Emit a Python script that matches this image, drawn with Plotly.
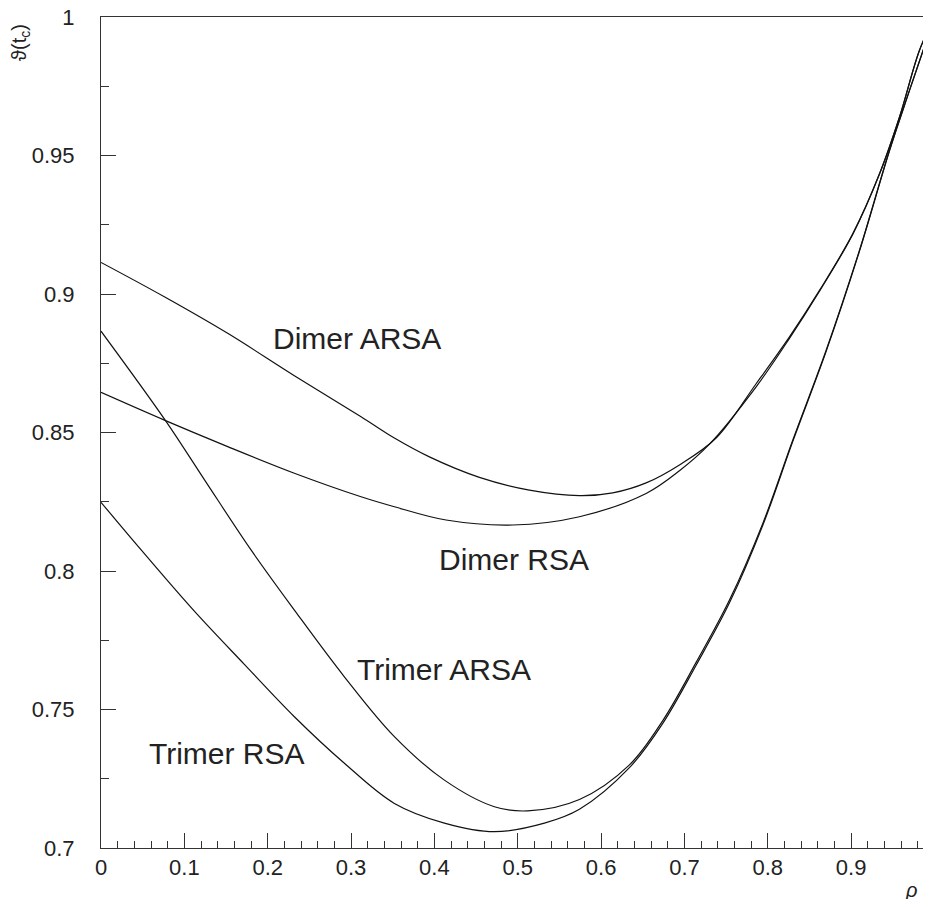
import plotly.graph_objects as go

# ---- data ----
dimer_arsa_x = [0, 0.076, 0.152, 0.232, 0.312, 0.352, 0.394, 0.454, 0.514, 0.574, 0.614, 0.654, 0.694, 0.738, 0.786, 0.826, 0.862, 0.902, 0.934, 0.958, 0.982, 1.0]
dimer_arsa_y = [0.9114, 0.8990, 0.8858, 0.8705, 0.8557, 0.8480, 0.8412, 0.8338, 0.8292, 0.8272, 0.8282, 0.8318, 0.8383, 0.8480, 0.8676, 0.8845, 0.9013, 0.9218, 0.9434, 0.9639, 0.9880, 1.0]

dimer_rsa_x = [0, 0.0774, 0.152, 0.232, 0.312, 0.352, 0.414, 0.494, 0.574, 0.654, 0.694, 0.730, 0.786, 0.826, 0.862, 0.902, 0.934, 0.958, 0.982, 1.0]
dimer_rsa_y = [0.8645, 0.8543, 0.8449, 0.8353, 0.8268, 0.8232, 0.8184, 0.8166, 0.8196, 0.8280, 0.8362, 0.8458, 0.8665, 0.8840, 0.9010, 0.9216, 0.9433, 0.9638, 0.9880, 1.0]

trimer_arsa_x = [0, 0.0774, 0.124, 0.18, 0.232, 0.292, 0.352, 0.412, 0.472, 0.512, 0.574, 0.634, 0.674, 0.714, 0.754, 0.794, 0.830, 0.870, 0.910, 0.946, 0.970, 1.0]
trimer_arsa_y = [0.8866, 0.8543, 0.8330, 0.8076, 0.7859, 0.7618, 0.7402, 0.7245, 0.7149, 0.7134, 0.7175, 0.7300, 0.7460, 0.7670, 0.7895, 0.8172, 0.8473, 0.8797, 0.9158, 0.9519, 0.9736, 1.0]

trimer_rsa_x = [0, 0.0482, 0.112, 0.172, 0.232, 0.292, 0.352, 0.412, 0.472, 0.532, 0.574, 0.634, 0.674, 0.714, 0.754, 0.794, 0.830, 0.870, 0.910, 0.946, 0.970, 1.0]
trimer_rsa_y = [0.8248, 0.8076, 0.7855, 0.7663, 0.7474, 0.7306, 0.7161, 0.7090, 0.7059, 0.7090, 0.7140, 0.7290, 0.7450, 0.7660, 0.7885, 0.8165, 0.8468, 0.8793, 0.9155, 0.9517, 0.9734, 1.0]

series = [
    ("Dimer ARSA", dimer_arsa_x, dimer_arsa_y),
    ("Dimer RSA", dimer_rsa_x, dimer_rsa_y),
    ("Trimer ARSA", trimer_arsa_x, trimer_arsa_y),
    ("Trimer RSA", trimer_rsa_x, trimer_rsa_y),
]

labels = ["Dimer ARSA", "Dimer RSA", "Trimer ARSA", "Trimer RSA"]
label_x = [0.3077, 0.4955, 0.4121, 0.1512]
label_y = [0.8841, 0.8040, 0.7643, 0.7341]

x_ticks = [0, 0.1, 0.2, 0.3, 0.4, 0.5, 0.6, 0.7, 0.8, 0.9]
x_tick_text = ["0", "0.1", "0.2", "0.3", "0.4", "0.5", "0.6", "0.7", "0.8", "0.9"]
y_ticks = [0.7, 0.75, 0.8, 0.85, 0.9, 0.95, 1.0]
y_tick_text = ["0.7", "0.75", "0.8", "0.85", "0.9", "0.95", "1"]

FONT = "Liberation Sans, Arial, sans-serif"

fig = go.Figure()
for name, xs, ys in series:
    fig.add_trace(go.Scatter(
        x=xs, y=ys, mode="lines", name=name,
        line=dict(color="#111111", width=1.2, shape="spline", smoothing=1.0),
        showlegend=False, hoverinfo="skip",
    ))

for t, ax, ay in zip(labels, label_x, label_y):
    fig.add_annotation(x=ax, y=ay, xref="x", yref="y", text=t, showarrow=False,
                       font=dict(family=FONT, size=30, color="#222222"),
                       xanchor="center", yanchor="middle")

# axis titles
fig.add_annotation(x=-0.0964, y=0.970, xref="paper", yref="paper",
                   text="ϑ(t<sub>c</sub>)", showarrow=False, textangle=-90,
                   font=dict(family=FONT, size=20, color="#222222"),
                   xanchor="center", yanchor="middle")
fig.add_annotation(x=0.976, y=-0.050, xref="paper", yref="paper",
                   text="<i>ρ</i>", showarrow=False,
                   font=dict(family=FONT, size=20, color="#222222"),
                   xanchor="center", yanchor="middle")

fig.update_xaxes(
    range=[0, 0.9958], showgrid=False, zeroline=False, automargin=False,
    showline=True, linecolor="#333333", linewidth=1, mirror=True,
    ticks="inside", ticklen=15, tickwidth=1, tickcolor="#333333",
    tickmode="array", tickvals=x_ticks, ticktext=x_tick_text, tickangle=0,
    tickfont=dict(family=FONT, size=22, color="#222222"),
    ticklabeloverflow="allow",
    minor=dict(ticks="inside", ticklen=7, tickwidth=1, tickcolor="#333333", dtick=0.02, tick0=0, showgrid=False),
)
fig.update_yaxes(
    range=[0.7, 1.0], showgrid=False, zeroline=False, automargin=False,
    showline=True, linecolor="#333333", linewidth=1, mirror=False,
    ticks="inside", ticklen=15, tickwidth=1, tickcolor="#333333",
    tickmode="array", tickvals=y_ticks, ticktext=y_tick_text,
    tickfont=dict(family=FONT, size=22, color="#222222"),
    ticklabelstandoff=21, ticklabeloverflow="allow",
    minor=dict(ticks="inside", ticklen=8, tickwidth=1, tickcolor="#333333", dtick=0.025, tick0=0.7, showgrid=False),
)

# the page body adds an 8px offset; size the figure so it ends at the window edge
fig.update_layout(
    width=923, height=891,
    margin=dict(l=93, r=0, t=9, b=51, pad=0),
    plot_bgcolor="white", paper_bgcolor="white",
)

fig.write_html("out.html")
